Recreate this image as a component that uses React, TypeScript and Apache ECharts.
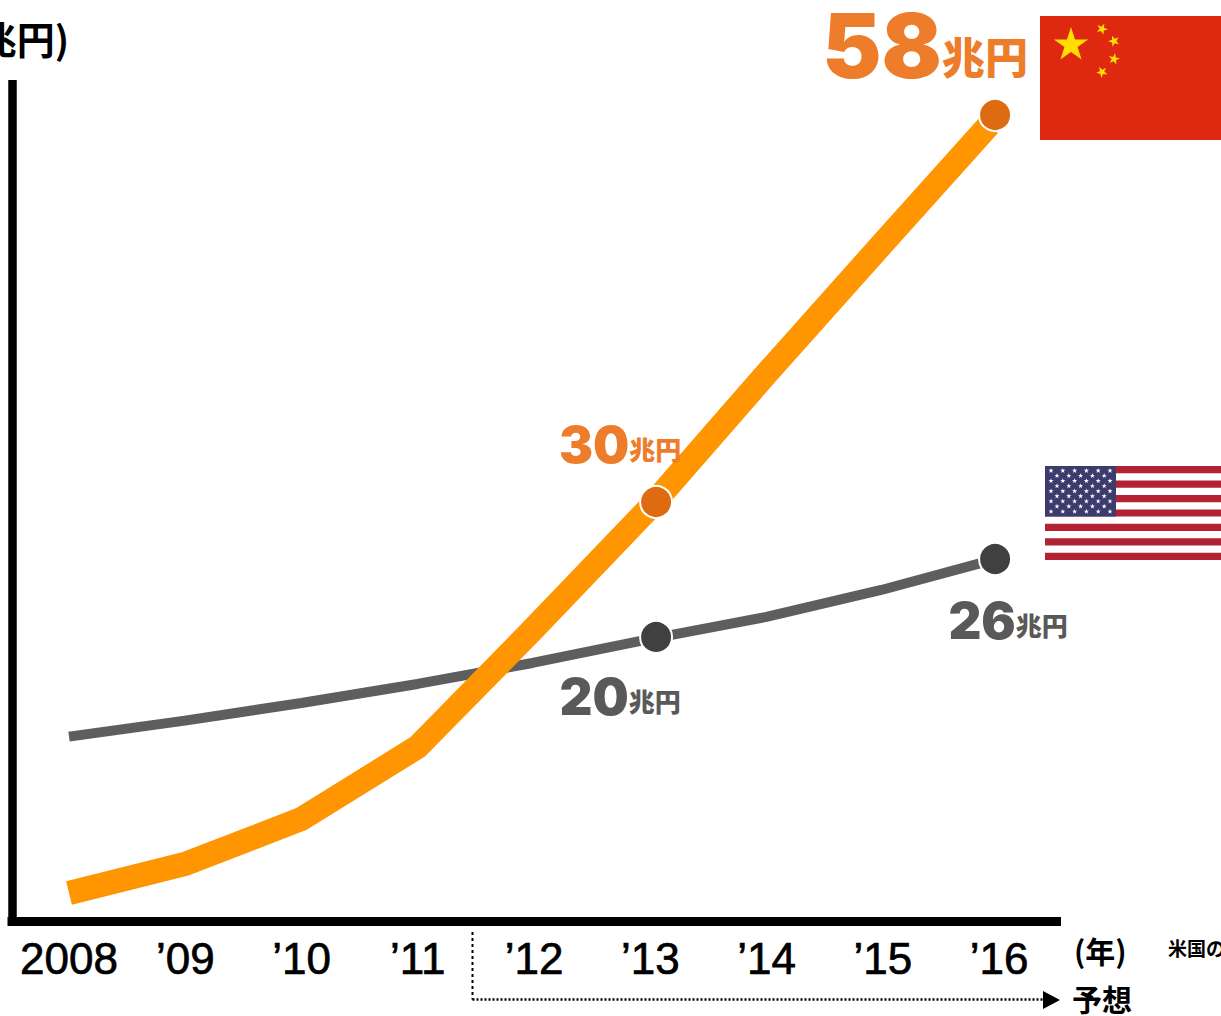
import React, { useEffect, useRef } from "react";
import * as echarts from "echarts";

const years = [2008, 2009, 2010, 2011, 2012, 2013, 2014, 2015, 2016];
const tickLabels = ["2008", "’09", "’10", "’11", "’12", "’13", "’14", "’15", "’16"];
const lineYears = [2008, 2008.997, 2009.999, 2010.997, 2011.986, 2012.992, 2013.99, 2014.987, 2015.914];
const chinaValues = [2.05, 4.14, 7.37, 12.55, 20.97, 29.75, 39.32, 48.67, 57.3];
const usValues = [13.3, 14.45, 15.72, 17.09, 18.6, 20.32, 21.9, 23.85, 25.94];
const dotYears = [2013.05, 2015.966];
const chinaDots = [30.18, 58.02];
const usDots = [20.47, 26.08];
const chinaLabels = ["30", "58"];
const usLabels = ["20", "26"];
const UNIT = "兆円";

const SANS = "Inter, 'Noto Sans CJK JP', sans-serif";
const JP = "'Noto Sans CJK JP', sans-serif";

function starPoints(cx: number, cy: number, r: number, rot = 0) {
  const pts: number[][] = [];
  for (let i = 0; i < 10; i++) {
    const rad = i % 2 === 0 ? r : r * 0.382;
    const a = -Math.PI / 2 + rot + (i * Math.PI) / 5;
    pts.push([cx + rad * Math.cos(a), cy + rad * Math.sin(a)]);
  }
  return pts;
}

function star(cx: number, cy: number, r: number, fill: string, rot = 0) {
  return { type: "polygon", shape: { points: starPoints(cx, cy, r, rot) }, style: { fill }, silent: true };
}

function flags() {
  const out: any[] = [];
  // China
  out.push({ type: "rect", shape: { x: 1040, y: 16, width: 181, height: 124 }, style: { fill: "#DE2910" } });
  out.push(star(1071, 45, 18, "#FFDE00"));
  out.push(star(1102, 29, 6, "#FFDE00", 0.4));
  out.push(star(1114, 41, 6, "#FFDE00", 0.9));
  out.push(star(1114, 59, 6, "#FFDE00", 0.2));
  out.push(star(1102, 72, 6, "#FFDE00", -0.5));
  // USA
  const h = 94 / 13;
  for (let i = 0; i < 13; i += 2) {
    out.push({ type: "rect", shape: { x: 1045, y: 466 + i * h, width: 176, height: h }, style: { fill: "#B22234" } });
  }
  out.push({ type: "rect", shape: { x: 1045, y: 466, width: 71, height: 50.6 }, style: { fill: "#3C3B6E" } });
  for (let row = 0; row < 9; row++) {
    const n = row % 2 === 0 ? 6 : 5;
    const x0 = row % 2 === 0 ? 1051 : 1057;
    for (let c = 0; c < n; c++) {
      out.push(star(x0 + c * 11.8, 470.7 + row * 5.1, 2.7, "#FFFFFF"));
    }
  }
  return out;
}

function annotations() {
  const t = (text: string, x: number, y: number, size: number, align = "left", weight: any = 700) => ({
    type: "text",
    x,
    y,
    style: { text, fill: "#000", font: `${weight} ${size}px ${JP}`, textAlign: align, textVerticalAlign: "middle" },
  });
  return [
    t("(兆円)", 69, 37, 38, "right", 700),
    t("(年)", 1074, 950, 30),
    t("予想", 1072, 998, 30),
    t("米国の", 1168, 947, 19),
    { type: "rect", shape: { x: 7.5, y: 917, width: 9, height: 9 }, style: { fill: "#000" } },
    {
      type: "polyline",
      shape: { points: [[472.5, 932], [472.5, 999.5]] },
      style: { stroke: "#000", lineWidth: 2, lineDash: [3, 3], fill: "none" },
    },
    {
      type: "polyline",
      shape: { points: [[472.5, 999.5], [1045, 999.5]] },
      style: { stroke: "#000", lineWidth: 2.4, lineDash: [2, 2], fill: "none" },
    },
    { type: "polygon", shape: { points: [[1043, 991], [1060, 1000], [1043, 1009]] }, style: { fill: "#000" } },
  ];
}

function pair(xs: number[], ys: number[]) {
  return xs.map((x, i) => [x, ys[i]]);
}

function dotData(vals: number[], labels: string[], opts: any[]) {
  return vals.map((v, i) => ({
    value: [dotYears[i], v],
    label: {
      show: true,
      position: opts[i].position,
      offset: opts[i].offset,
      formatter: `{n${opts[i].big ? "B" : ""}|${labels[i]}}{u${opts[i].big ? "B" : ""}|${UNIT}}`,
    },
  }));
}

function rich(color: string) {
  return {
    n: { fontFamily: SANS, fontWeight: 900, fontSize: 51, color, lineHeight: 56 },
    u: { fontFamily: JP, fontWeight: 900, fontSize: 26, color, lineHeight: 56, verticalAlign: "bottom", padding: [0, 0, 11, 0] },
    nB: { fontFamily: SANS, fontWeight: 900, fontSize: 89, color, lineHeight: 90 },
    uB: { fontFamily: JP, fontWeight: 900, fontSize: 43, color, lineHeight: 90, verticalAlign: "bottom", padding: [0, 0, 14, 0] },
  };
}

export default function App() {
  const ref = useRef<HTMLDivElement>(null);
  useEffect(() => {
    const chart = echarts.init(ref.current!, undefined, { renderer: "svg" });
    chart.setOption({
      animation: false,
      backgroundColor: "#fff",
      grid: { left: 12, top: 80, width: 1049, height: 841.5, containLabel: false },
      xAxis: {
        type: "value",
        min: 2007.5097,
        max: 2016.533,
        splitLine: { show: false },
        axisTick: { show: false },
        axisLine: { show: true, lineStyle: { color: "#000", width: 9, cap: "butt" } },
        axisLabel: {
          show: true,
          customValues: years,
          formatter: (v: number) => tickLabels[years.indexOf(Math.round(v))] ?? "",
          fontFamily: "'Liberation Sans', sans-serif",
          fontWeight: 400,
          fontSize: 44,
          color: "#000",
          textBorderColor: "#000",
          textBorderWidth: 0.7,
          margin: 15,
          hideOverlap: false,
        },
      },
      yAxis: {
        type: "value",
        min: 0,
        max: 60.54,
        axisLine: { show: true, onZero: false, lineStyle: { color: "#000", width: 8.5, cap: "butt" } },
        axisTick: { show: false },
        axisLabel: { show: false },
        splitLine: { show: false },
      },
      series: [
        {
          name: "米国",
          type: "line",
          data: pair(lineYears, usValues),
          showSymbol: false,
          smooth: false,
          lineStyle: { color: "#5E5E5E", width: 10, cap: "butt" },
          z: 2,
        },
        {
          name: "中国",
          type: "line",
          data: pair(lineYears, chinaValues),
          showSymbol: false,
          smooth: false,
          lineStyle: { color: "#FF9500", width: 24, cap: "butt", join: "miter" },
          z: 3,
        },
        {
          type: "scatter",
          symbolSize: 32,
          itemStyle: { color: "#404040", borderColor: "#fff", borderWidth: 2, opacity: 1 },
          label: { rich: rich("#595959") },
          data: dotData(usDots, usLabels, [
            { position: "bottom", offset: [-36, 10] },
            { position: "bottom", offset: [13, 12] },
          ]),
          z: 4,
        },
        {
          type: "scatter",
          symbolSize: 32,
          itemStyle: { color: "#DE6B10", borderColor: "#fff", borderWidth: 2, opacity: 1 },
          label: { rich: rich("#EE7D2B") },
          data: dotData(chinaDots, chinaLabels, [
            { position: "top", offset: [-36, -8] },
            { position: "top", offset: [-70, -3], big: true },
          ]),
          z: 5,
        },
      ],
      graphic: { elements: [...flags(), ...annotations()] },
    });
    return () => chart.dispose();
  }, []);
  return (
    <div
      ref={ref}
      style={{ position: "absolute", left: 0, top: 0, width: 1221, height: 1016, background: "#fff" }}
    />
  );
}
